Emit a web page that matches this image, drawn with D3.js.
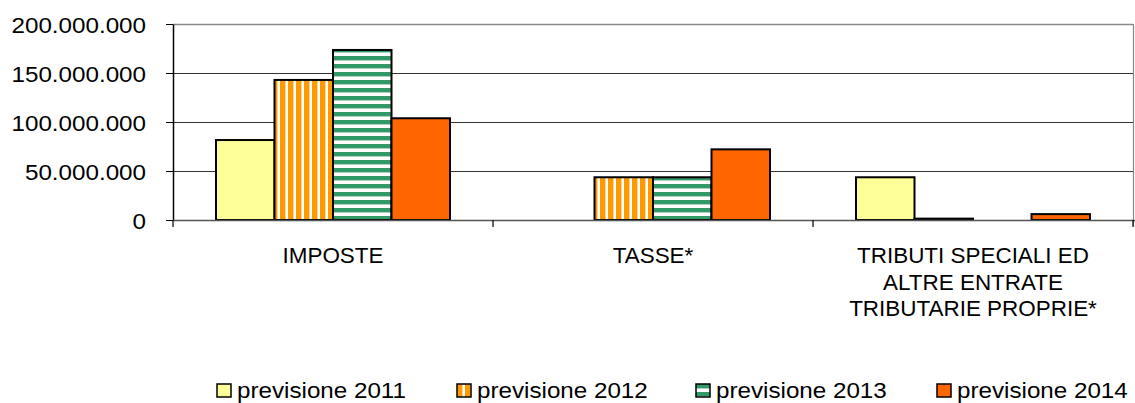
<!DOCTYPE html>
<html>
<head>
<meta charset="utf-8">
<script src="https://cdn.jsdelivr.net/npm/d3@7"></script>
<style>
  body { margin: 0; background: #fff; }
  svg { display: block; }
  text { font-family: "Liberation Sans", Arial, sans-serif; fill: #000; }
</style>
</head>
<body>
<div id="vis"></div>
<script>
const FRAME_WIDTH = 1135;
const FRAME_HEIGHT = 403;
const MARGINS = { top: 24, left: 173 };
const PLOT_W = 960;
const PLOT_H = 196;

// data
const CATEGORIES = [
  ["IMPOSTE"],
  ["TASSE*"],
  ["TRIBUTI SPECIALI ED", "ALTRE ENTRATE", "TRIBUTARIE PROPRIE*"]
];
const SERIES = ["previsione 2011", "previsione 2012", "previsione 2013", "previsione 2014"];
const PREV_2011 = [81600000, 0, 43600000];
const PREV_2012 = [142900000, 43600000, 1400000];
const PREV_2013 = [173500000, 43600000, 0];
const PREV_2014 = [103800000, 72100000, 6000000];
const Y_TICKS = [0, 50000000, 100000000, 150000000, 200000000];

const VALUES = [PREV_2011, PREV_2012, PREV_2013, PREV_2014];
const FILLS = ["#ffff99", "url(#stripeV)", "url(#stripeH)", "#ff6600"];

const FRAME = d3.select("#vis")
  .append("svg")
  .attr("width", FRAME_WIDTH)
  .attr("height", FRAME_HEIGHT);

// patterns
const defs = FRAME.append("defs");
const pv = defs.append("pattern")
  .attr("id", "stripeV")
  .attr("patternUnits", "userSpaceOnUse")
  .attr("width", 8).attr("height", 8);
pv.append("rect").attr("width", 8).attr("height", 8).attr("fill", "#ffffff");
pv.append("rect").attr("x", 0).attr("width", 5).attr("height", 8).attr("fill", "#ff9900");
pv.append("rect").attr("x", 5).attr("width", 1).attr("height", 8).attr("fill", "#ffd699");

const ph = defs.append("pattern")
  .attr("id", "stripeH")
  .attr("patternUnits", "userSpaceOnUse")
  .attr("width", 8).attr("height", 8);
ph.append("rect").attr("width", 8).attr("height", 8).attr("fill", "#ffffff");
ph.append("rect").attr("y", 0).attr("width", 8).attr("height", 4).attr("fill", "#339966");
ph.append("rect").attr("y", 4).attr("width", 8).attr("height", 1).attr("fill", "#a9d4bf");

const X_SCALE = d3.scaleBand()
  .domain(d3.range(CATEGORIES.length))
  .range([MARGINS.left, MARGINS.left + PLOT_W]);

const X_INNER = d3.scaleBand()
  .domain(d3.range(SERIES.length))
  .range([43, X_SCALE.bandwidth() - 43]);

const Y_SCALE = d3.scaleLinear()
  .domain([0, 200000000])
  .range([MARGINS.top + PLOT_H, MARGINS.top]);

const Y0 = Y_SCALE(0);

// gridlines
FRAME.append("g")
  .selectAll("line")
  .data(Y_TICKS.slice(1))
  .enter()
  .append("line")
  .attr("x1", MARGINS.left)
  .attr("x2", MARGINS.left + PLOT_W)
  .attr("y1", (d) => Y_SCALE(d) + 0.5)
  .attr("y2", (d) => Y_SCALE(d) + 0.5)
  .attr("stroke", (d, i) => (i === 3 ? "#888" : "#333"))
  .attr("stroke-width", (d, i) => (i === 3 ? 1.5 : 1));

// right border
FRAME.append("line")
  .attr("x1", MARGINS.left + PLOT_W + 0.5).attr("x2", MARGINS.left + PLOT_W + 0.5)
  .attr("y1", MARGINS.top).attr("y2", Y0 + 6)
  .attr("stroke", "#888").attr("stroke-width", 1.2);

// bars
VALUES.forEach((vals, s) => {
  FRAME.append("g")
    .selectAll("rect")
    .data(vals.map((v, i) => ({ v: v, i: i })).filter((d) => d.v > 0))
    .enter()
    .append("rect")
    .attr("x", (d) => X_SCALE(d.i) + X_INNER(s))
    .attr("y", (d) => Y_SCALE(d.v))
    .attr("width", X_INNER.bandwidth())
    .attr("height", (d) => Y0 - Y_SCALE(d.v))
    .attr("fill", FILLS[s])
    .attr("stroke", "#000")
    .attr("stroke-width", 2);
});

// y axis
const yAxis = FRAME.append("g")
  .attr("transform", `translate(${MARGINS.left},0)`)
  .call(d3.axisLeft(Y_SCALE).tickValues(Y_TICKS).tickSize(7).tickSizeOuter(0)
    .tickFormat((d) => d3.format(",")(d).replace(/,/g, ".")));
yAxis.select(".domain").attr("stroke", "#000").attr("stroke-width", 1.5);
yAxis.selectAll(".tick line").attr("stroke", "#000");
yAxis.selectAll(".tick text")
  .attr("x", null).attr("dy", null)
  .attr("font-size", 22)
  .attr("transform", "translate(-27,8) scale(1.1,1)")
  .style("font-family", '"Liberation Sans", Arial, sans-serif');

// x axis
FRAME.append("line")
  .attr("x1", MARGINS.left).attr("x2", MARGINS.left + PLOT_W + 2)
  .attr("y1", Y0 + 0.5).attr("y2", Y0 + 0.5)
  .attr("stroke", "#555").attr("stroke-width", 1.5);

FRAME.append("g")
  .selectAll("line")
  .data(d3.range(CATEGORIES.length + 1))
  .enter()
  .append("line")
  .attr("x1", (d) => MARGINS.left + d * X_SCALE.step())
  .attr("x2", (d) => MARGINS.left + d * X_SCALE.step())
  .attr("y1", Y0)
  .attr("y2", Y0 + 7)
  .attr("stroke", "#000")
  .attr("stroke-width", 1.2);

// category labels
const catLabels = FRAME.append("g")
  .selectAll("text")
  .data(CATEGORIES)
  .enter()
  .append("text")
  .attr("text-anchor", "middle")
  .attr("font-size", 22)
  .attr("transform", (d, i) =>
    `translate(${X_SCALE(i) + X_SCALE.bandwidth() / 2},0) scale(1.02,1)`);

catLabels.selectAll("tspan")
  .data((d) => d)
  .enter()
  .append("tspan")
  .attr("x", 0)
  .attr("y", (d, i) => 263 + i * 26.7)
  .text((d) => d);

// legend
const LEGEND_X = [217, 457, 696, 937];
const legend = FRAME.append("g")
  .selectAll("g")
  .data(SERIES)
  .enter()
  .append("g")
  .attr("transform", (d, i) => `translate(${LEGEND_X[i]},384)`);

legend.append("rect")
  .attr("width", 14)
  .attr("height", 13)
  .attr("fill", (d, i) => FILLS[i])
  .attr("stroke", "#000")
  .attr("stroke-width", 1.5);

legend.append("text")
  .attr("font-size", 22)
  .attr("transform", "translate(20,14) scale(1.1,1)")
  .text((d) => d);
</script>
</body>
</html>
